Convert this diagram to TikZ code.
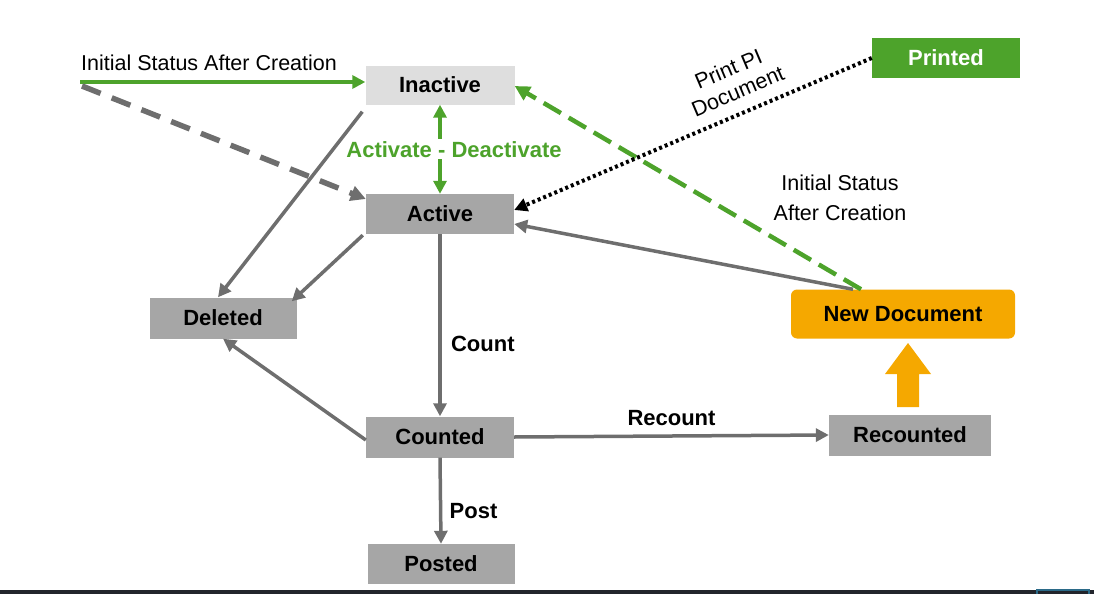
\documentclass[tikz,border=0pt]{standalone}
\usepackage{fontspec}
\setmainfont{Liberation Sans}
\usetikzlibrary{arrows.meta}
\definecolor{boxgray}{HTML}{A6A6A6}
\definecolor{lightbox}{HTML}{DEDEDE}
\definecolor{linegray}{HTML}{6E6E6E}
\definecolor{sapgreen}{HTML}{4DA32B}
\definecolor{saporange}{HTML}{F5A800}
\definecolor{barcol}{HTML}{22252C}
\definecolor{bluebit}{HTML}{2B6A88}
\tikzset{
  state/.style={fill=boxgray, minimum width=148pt, minimum height=40pt, inner sep=0pt, font=\fontsize{22}{24}\selectfont\bfseries},
  gline/.style={draw=linegray, line width=3.5pt, -{Triangle[length=13pt,width=13pt]}},
  grline/.style={draw=sapgreen, line width=3.5pt, -{Triangle[length=13pt,width=13pt]}},
  lbl/.style={font=\fontsize{22}{24}\selectfont\bfseries},
  plain/.style={font=\fontsize{21.5}{30}\selectfont, align=center}
}
\begin{document}
\begin{tikzpicture}[x=1pt,y=-1pt]
\useasboundingbox (0,0) rectangle (1094,594);
\fill[barcol] (0,590) rectangle (1094,594);
\draw[bluebit, line width=1.5pt] (1037,594) -- (1037,590) -- (1089,590) -- (1089,594);

\node[state, fill=lightbox, minimum width=149pt, minimum height=39pt] (inactive) at (440,85) {Inactive};
\node[state] (active) at (440,214) {Active};
\node[state, minimum width=147pt, minimum height=41pt] (deleted) at (223,318) {Deleted};
\node[state, minimum height=41pt] (counted) at (440,437) {Counted};
\node[state, minimum width=147pt] (posted) at (441,564) {Posted};
\node[state, minimum width=162pt, minimum height=41pt] (recounted) at (910,435) {Recounted};
\node[state, fill=saporange, rounded corners=6pt, minimum width=224pt, minimum height=49pt] (newdoc) at (903,314) {New Document};
\node[state, fill=sapgreen, text=white, minimum width=148pt] (printed) at (946,58) {Printed};

\coordinate (src) at (80,82);
\coordinate (src2) at (82,86);
\node[plain] (lbl1) at (209,63) {Initial Status After Creation};

% initial status arrows
\draw[grline] (src) -- (inactive.west |- src);
\draw[draw=linegray, line width=5.5pt, dash pattern=on 20pt off 12pt, -{Triangle[length=15pt,width=15pt]}] (src2) -- ([yshift=15pt]active.west);

% gray solid arrows
\draw[gline] ([xshift=-3pt,yshift=-7pt]inactive.south west) -- ([xshift=-5pt]deleted.north);
\draw[gline] ([xshift=-3pt,yshift=-1pt]active.south west) -- ([xshift=-5pt,yshift=-4pt]deleted.north east);
\draw[gline] (active.south) -- node[lbl, right=6pt, pos=0.6] (lcount) {Count} (counted.north);
\draw[gline] ([yshift=-3pt]counted.west) -- (deleted.south);
\draw[gline] (counted.east) -- node[lbl, above=5pt] (lrecount) {Recount} (recounted.west);
\draw[gline] (counted.south) -- node[lbl, right=4pt, pos=0.62] (lpost) {Post} (posted.north);
\draw[gline] ([xshift=-50pt]newdoc.north) -- ([yshift=-10pt]active.east);

% green double arrow
\draw[draw=sapgreen, line width=3.5pt, {Triangle[length=13pt,width=13pt]}-{Triangle[length=13pt,width=13pt]}] (inactive.south) -- node[lbl, text=sapgreen, fill=white, inner sep=2pt, xshift=14pt] (lact) {Activate - Deactivate} (active.north);

% green dashed from new document to inactive
\draw[draw=sapgreen, line width=4.5pt, dash pattern=on 20pt off 9pt, -{Triangle[length=15pt,width=15pt]}] ([xshift=-42pt]newdoc.north) -- ([yshift=-1pt]inactive.east);

% dotted black from printed to active
\draw[draw=black, line width=4pt, dash pattern=on 3pt off 3pt, -{Triangle[length=13pt,width=13pt]}] (printed.west) -- ([yshift=4pt]active.east);
\node[plain, rotate=23, font=\fontsize{21.5}{24}\selectfont] (lprint) at (733,80) {Print PI\\Document};

\node[plain] (lnew) at (840,198) {Initial Status\\After Creation};

% orange block arrow
\fill[saporange] (897,407) -- (897,374) -- (885,374) -- (908,343) -- (931,374) -- (919,374) -- (919,407) -- cycle;
\end{tikzpicture}
\end{document}
